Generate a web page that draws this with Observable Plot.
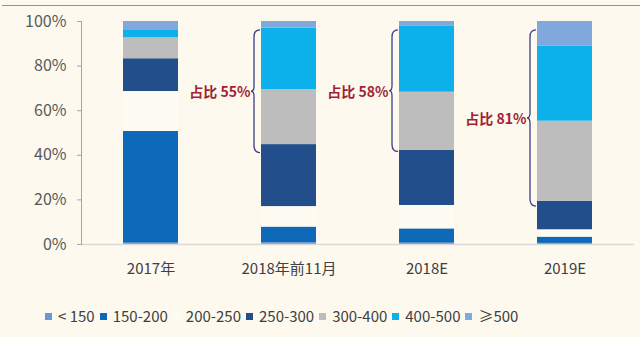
<!DOCTYPE html>
<html><head><meta charset="utf-8">
<script src="https://cdn.jsdelivr.net/npm/d3@7"></script>
<script src="https://cdn.jsdelivr.net/npm/@observablehq/plot@0.6"></script>
<style>
html,body{margin:0;padding:0;background:#fdf9ef;}
body{width:640px;height:337px;overflow:hidden;font-family:"Noto Sans CJK SC","Noto Sans",sans-serif;}
#wrap{position:relative;width:640px;height:337px;}
#topline{position:absolute;left:2px;right:0;top:5px;height:1px;background:#6f9cc0;}
#chart{position:absolute;left:0;top:0;}
#legend{position:absolute;top:305px;left:45px;display:flex;align-items:center;font-size:15px;color:#404040;white-space:nowrap;line-height:22px;}
.item{display:flex;align-items:center;margin-right:5px;}
.sw{width:7px;height:7px;margin-right:6px;}
</style>
</head><body>
<div id="wrap"><div id="topline"></div><div id="chart"></div><div id="legend"></div></div>
<script>
const categories = ["2017年", "2018年前11月", "2018E", "2019E"];
const segments = ["< 150", "150-200", "200-250", "250-300", "300-400", "400-500", "≥500"];
const colors = ["#6b97d3", "#0e69b8", "#fefbf3", "#224f8b", "#bdbdbd", "#0cb0ea", "#80a8dd"];
const vLt150   = [0.6, 0.8, 0.6, 0.5];
const v150_200 = [50.1, 7.0, 6.4, 2.8];
const v200_250 = [17.9, 9.2, 10.5, 3.3];
const v250_300 = [14.7, 27.8, 24.7, 12.7];
const v300_400 = [9.4, 24.7, 26.1, 36.0];
const v400_500 = [3.6, 27.5, 29.5, 33.6];
const vGe500   = [3.7, 3.0, 2.2, 11.1];
const yTicks = [0, 20, 40, 60, 80, 100];
const shareCats = ["2018年前11月", "2018E", "2019E"];
const shareLabels = ["占比 55%", "占比 58%", "占比 81%"];
const braceTop = [96, 96, 96];
const braceBottom = [41, 41.5, 17];

const series = [vLt150, v150_200, v200_250, v250_300, v300_400, v400_500, vGe500];
const table = [];
categories.forEach((c, i) => segments.forEach((s, j) => table.push({cat: c, seg: s, value: series[j][i]})));
const shares = shareCats.map((c, i) => ({cat: c, label: shareLabels[i], top: braceTop[i], bottom: braceBottom[i], mid: (braceTop[i] + braceBottom[i]) / 2}));

function braces(index, scales) {
  const g = d3.create("svg:g");
  for (const d of shares) {
    const xl = scales.x(d.cat);
    const y0 = scales.y(d.top), y1 = scales.y(d.bottom), ym = scales.y(d.mid);
    const v = xl - 7, tip = xl - 10, e = xl - 1;
    const p = `M${e},${y0} Q${v},${y0} ${v},${y0 + 7} L${v},${ym - 5} Q${v},${ym} ${tip},${ym} Q${v},${ym} ${v},${ym + 5} L${v},${y1 - 7} Q${v},${y1} ${e},${y1}`;
    g.append("path").attr("d", p).attr("fill", "none").attr("stroke", "#3b3d8c").attr("stroke-width", 1.3);
  }
  return g.node();
}

const chart = Plot.plot({
  width: 640, height: 292,
  marginLeft: 81, marginRight: 6, marginTop: 21, marginBottom: 48,
  style: {background: "transparent", fontFamily: '"Noto Sans CJK SC","Noto Sans",sans-serif', color: "#595959"},
  x: {domain: categories, paddingInner: 0.6, paddingOuter: 0.3, label: null},
  y: {domain: [0, 100], label: null},
  color: {domain: segments, range: colors},
  marks: [
    Plot.barY(table, {x: "cat", y: "value", fill: "seg"}),
    Plot.ruleY([0], {stroke: "#d9d9d9", strokeWidth: 1.5}),
    Plot.frame({anchor: "left", stroke: "#a6a6a6"}),
    Plot.axisY({ticks: yTicks, tickFormat: d => d + "%", tickSize: 4, tickPadding: 11, fontSize: 16, stroke: "#a6a6a6", fill: "#595959", label: null}),
    Plot.axisX({tickSize: 0, tickPadding: 19, fontSize: 15, fill: "#404040", label: null}),
    braces,
    Plot.text(shares, {x: "cat", y: "mid", text: "label", textAnchor: "end", dx: -38.6, dy: 1, fill: "#a31f33", fontWeight: "bold", fontSize: 14})
  ]
});
document.getElementById("chart").appendChild(chart);

const leg = document.getElementById("legend");
segments.forEach((s, j) => {
  const it = document.createElement("div"); it.className = "item";
  const sw = document.createElement("div"); sw.className = "sw"; sw.style.background = colors[j];
  const t = document.createElement("span"); t.textContent = s;
  it.appendChild(sw); it.appendChild(t); leg.appendChild(it);
});
</script>
</body></html>
